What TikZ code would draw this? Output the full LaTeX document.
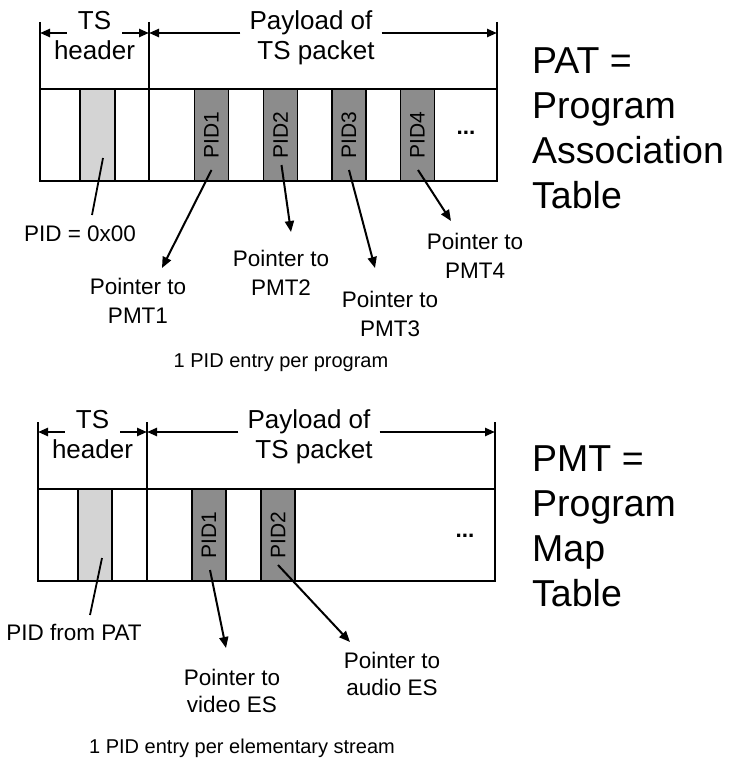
\documentclass[tikz,border=0pt]{standalone}
\usepackage{fontspec}
\setmainfont{Liberation Sans}
\usetikzlibrary{arrows.meta,calc,positioning}
\definecolor{pidgray}{RGB}{140,140,140}
\definecolor{hdrgray}{RGB}{212,212,212}
\newcommand{\hdrfont}{\fontsize{26}{30}\selectfont}
\newcommand{\lblfont}{\fontsize{22.5}{29}\selectfont}
\newcommand{\notefont}{\fontsize{20}{24}\selectfont}
\newcommand{\bigfont}{\fontsize{37.5}{45}\selectfont}
\newcommand{\pidfont}{\fontsize{21}{21}\selectfont}

\begin{document}
\begin{tikzpicture}[x=1pt, y=-1pt,
  frame/.style={line width=2.9pt},
  edge/.style={line width=2.4pt},
  hdrcell/.style={draw, line width=1.8pt, fill=hdrgray, minimum width=35pt,
    minimum height=92pt, inner sep=0pt},
  pidcell/.style={draw, line width=1.8pt, fill=pidgray, rotate=90,
    minimum width=92pt, minimum height=34pt, inner sep=0pt, font=\pidfont},
  dots/.style={anchor=base, inner sep=0pt, font=\lblfont\bfseries},
  hdrtxt/.style={inner xsep=11pt, inner ysep=0pt, anchor=base, font=\hdrfont},
  lbl/.style={align=center, inner sep=0pt, anchor=north, font=\lblfont},
  note/.style={inner sep=0pt, anchor=base, font=\notefont},
  big/.style={align=left, inner sep=0pt, anchor=north west, font=\bigfont},
  ptr/.style={-{Triangle[length=11pt,width=9pt]}, line width=2pt},
  lead/.style={line width=1.8pt},
  dim/.style={-{Triangle[length=10pt,width=8pt]}, line width=2.4pt},
]
\useasboundingbox (0,0) rectangle (730,762);

% PAT packet
\node[hdrcell] (patpid) at (97.5,135) {};
\foreach \n/\x in {1/211.5,2/280.5,3/349,4/417.5}
  \node[pidcell] (pat\n) at (\x,135) {PID\n};
\node[dots] (patdots) at (466,135) {...};
\draw[edge] (149,22) -- (149,181);
\draw[edge] (40,22) -- (40,89);
\draw[edge] (497,22) -- (497,89);
\draw[frame] (40,89) rectangle (497,181);
\coordinate (patA) at (40,33);
\coordinate (patB) at (149,33);
\coordinate (patC) at (497,33);

\node[hdrtxt] (patts) at (94.5,30) {TS};
\node[hdrtxt] at (94.5,60) {header};
\node[hdrtxt, inner xsep=9pt] (patpl) at (311,30) {Payload of};
\node[hdrtxt] at (316,60) {TS packet};
\draw[dim] (patts.west |- patA) -- (patA);
\draw[dim] (patts.east |- patA) -- (patB);
\draw[dim] (patpl.west |- patB) -- (patB);
\draw[dim] (patpl.east |- patB) -- (patC);

\node[big] (pattitle) at (532,48) {PAT =\\Program\\Association\\Table};

\node[lbl] (pid0) at (80,226) {PID = 0x00};
\node[lbl] (pmt1) at (138,278) {Pointer to\\PMT1};
\node[lbl] (pmt2) at (281,250) {Pointer to\\PMT2};
\node[lbl] (pmt3) at (390,291) {Pointer to\\PMT3};
\node[lbl] (pmt4) at (475,233) {Pointer to\\PMT4};
\coordinate (pid0end) at (92,215);
\coordinate (pmt1tip) at (162,268);
\coordinate (pmt2tip) at (291,232);
\coordinate (pmt3tip) at (375,268);
\coordinate (pmt4tip) at (451,221);
\draw[lead] ($(patpid)+(5.5,23)$) -- (pid0end);
\draw[ptr] ($(pat1)+(0,35)$) -- (pmt1tip);
\draw[ptr] ($(pat2)+(1,30)$) -- (pmt2tip);
\draw[ptr] ($(pat3)+(0,35)$) -- (pmt3tip);
\draw[ptr] ($(pat4)+(0.5,35)$) -- (pmt4tip);
\node[note] (patnote) at (281,367) {1 PID entry per program};

% PMT packet
\node[hdrcell, minimum width=34pt] (pmtpid) at (95,535) {};
\foreach \n/\x in {1/209,2/278}
  \node[pidcell] (pmt\n cell) at (\x,535) {PID\n};
\node[dots] (pmtdots) at (465,537) {...};
\draw[edge] (147,422) -- (147,581);
\draw[edge] (38,422) -- (38,489);
\draw[edge] (495,422) -- (495,489);
\draw[frame] (38,489) rectangle (495,581);
\coordinate (pmtA) at (38,432);
\coordinate (pmtB) at (147,432);
\coordinate (pmtC) at (495,432);

\node[hdrtxt] (pmtts) at (92.5,428) {TS};
\node[hdrtxt] at (92.5,458) {header};
\node[hdrtxt, inner xsep=9pt] (pmtpl) at (309,428) {Payload of};
\node[hdrtxt] at (314,458) {TS packet};
\draw[dim] (pmtts.west |- pmtA) -- (pmtA);
\draw[dim] (pmtts.east |- pmtA) -- (pmtB);
\draw[dim] (pmtpl.west |- pmtB) -- (pmtB);
\draw[dim] (pmtpl.east |- pmtB) -- (pmtC);

\node[big] (pmttitle) at (532,445) {PMT =\\Program\\Map\\Table};

\node[lbl] (pidpat) at (74,624) {PID from PAT};
\node[lbl, font=\fontsize{22.5}{27}\selectfont] (vides) at (232,669) {Pointer to\\video ES};
\node[lbl, font=\fontsize{22.5}{27}\selectfont] (audes) at (392,652) {Pointer to\\audio ES};
\coordinate (pidpatend) at (90,615);
\coordinate (videstip) at (226,648);
\coordinate (audestip) at (350,642);
\draw[lead] ($(pmtpid)+(7,23)$) -- (pidpatend);
\draw[ptr] ($(pmt1cell)+(1,35)$) -- (videstip);
\draw[ptr] ($(pmt2cell)+(0,30)$) -- (audestip);
\node[note] (pmtnote) at (242,753) {1 PID entry per elementary stream};
\end{tikzpicture}
\end{document}
